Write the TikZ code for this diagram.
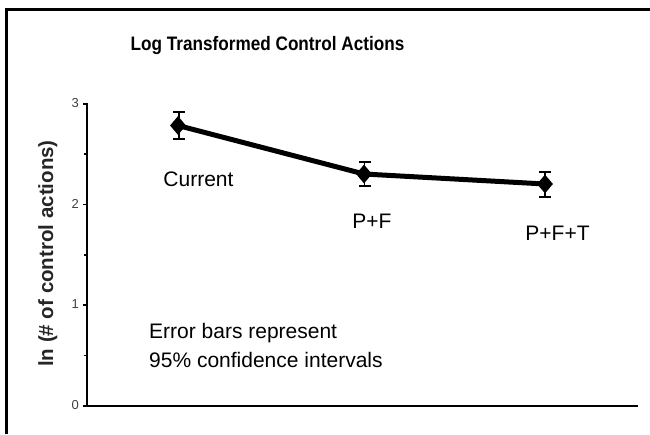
\documentclass[tikz,border=0pt]{standalone}
\usepackage{fontspec}
\setmainfont{Liberation Sans}
\usetikzlibrary{shapes.geometric}
\tikzset{
  mk/.style={diamond,fill=black,inner sep=0pt,minimum width=16pt,minimum height=19pt},
  errbar/.style={line width=1.8pt},
  dataline/.style={line width=5pt},
  axisline/.style={line width=2.4pt},
  ticklab/.style={font=\fontsize{13}{15}\selectfont,text=black!75,inner sep=0pt},
  lab/.style={font=\fontsize{21}{25}\selectfont,inner sep=0pt,anchor=base},
}
\begin{document}
\begin{tikzpicture}[x=1pt,y=-1pt]
\useasboundingbox (0,0) rectangle (650,434);
% frame (top and left edges only visible)
\draw[line width=3pt] (6,434) -- (6,9.5) -- (650,9.5);
% title
\node[font=\bfseries\fontsize{19.5}{23}\selectfont,xscale=0.88,anchor=base,inner sep=0pt] (title) at (267.5,50) {Log Transformed Control Actions};
% axes
\coordinate (o) at (87,406);
\coordinate (ytop) at (87,103);
\coordinate (xend) at (638,406);
\draw[axisline] (ytop) -- (o) -- (xend);
\foreach \v/\yy in {0/406,1/305,2/204.5,3/104}{
  \draw[line width=1.4pt] (83,\yy) -- (87,\yy);
  \node[ticklab,anchor=east] (t\v) at (79,\yy-0.5) {\v};
}
\foreach \yy in {154,255,355.5}{
  \draw[line width=1.4pt] (84,\yy) -- (86,\yy);
}
% y label
\node[rotate=90,anchor=base,inner sep=0pt,font=\bfseries\fontsize{20.5}{24}\selectfont,text=black!85] (ylab) at (53,253.5) {ln (\# of control actions)};
% data
\node[mk] (p1) at (178,125.5) {};
\node[mk] (p2) at (364,174) {};
\node[mk] (p3) at (545,184) {};
\draw[dataline] (p1.center) -- (p2.center) -- (p3.center);
\foreach \n/\x/\ya/\yb in {1/179/112/139,2/364.5/162/186,3/545/172/197}{
  \coordinate (e\n a) at (\x,\ya);
  \coordinate (e\n b) at (\x,\yb);
  \draw[errbar] (e\n a) -- (e\n b);
  \draw[errbar] ([xshift=-6pt]e\n a) -- ([xshift=6pt]e\n a);
  \draw[errbar] ([xshift=-6pt]e\n b) -- ([xshift=6pt]e\n b);
}
% labels
\node[lab] (l1) at (198.5,186) {Current};
\node[lab] (l2) at (372,228) {P+F};
\node[lab] (l3) at (557.5,240) {P+F+T};
\node[lab,anchor=base west] (note1) at (149,338) {Error bars represent};
\node[lab,anchor=base west] (note2) at (149,367) {95\% confidence intervals};
\end{tikzpicture}
\end{document}
